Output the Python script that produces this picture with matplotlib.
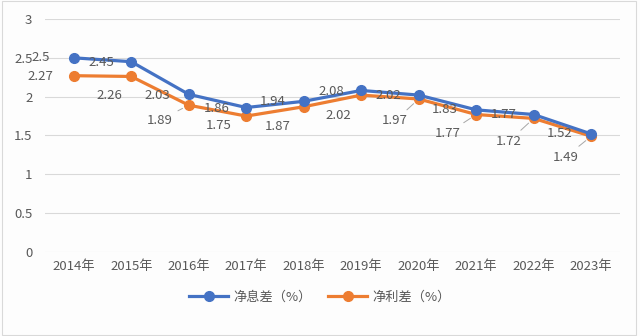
import matplotlib
matplotlib.use("Agg")
import matplotlib.pyplot as plt
from matplotlib.patches import Rectangle

plt.rcParams['font.family'] = ['Noto Sans CJK SC', 'DejaVu Sans']

years = ['2014年', '2015年', '2016年', '2017年', '2018年', '2019年', '2020年', '2021年', '2022年', '2023年']
nim = [2.5, 2.45, 2.03, 1.86, 1.94, 2.08, 2.02, 1.83, 1.77, 1.52]
spread = [2.27, 2.26, 1.89, 1.75, 1.87, 2.02, 1.97, 1.77, 1.72, 1.49]
nim_name = '净息差（%）'
spread_name = '净利差（%）'
yticks = [0, 0.5, 1, 1.5, 2, 2.5, 3]

blue = '#4472C4'
orange = '#ED7D31'
txt = '#595959'
fs = 9.5

fig = plt.figure(figsize=(6.4, 3.36), dpi=100)
fig.patch.set_facecolor('#fdfdfd')
fig.patches.append(Rectangle((0.003, 0.004), 0.991, 0.993, transform=fig.transFigure,
                             fill=False, edgecolor='#d9d9d9', linewidth=0.8))
ax = fig.add_axes([0.0703, 0.25, 0.8984, 0.6935])
ax.set_facecolor('none')

x = list(range(len(years)))
ax.plot(x, nim, color=blue, lw=2.3, marker='o', ms=7, label=nim_name, zorder=4)
ax.plot(x, spread, color=orange, lw=2.3, marker='o', ms=7, label=spread_name, zorder=3)

ax.set_xlim(-0.5, len(years) - 0.5)
ax.set_ylim(0, 3)
ax.set_yticks(yticks)
ax.set_yticklabels(['0', '0.5', '1', '1.5', '2', '2.5', '3'])
ax.set_xticks(x)
ax.set_xticklabels(years)
ax.tick_params(axis='both', length=0, labelsize=fs, colors=txt)
ax.tick_params(axis='y', pad=9)
ax.tick_params(axis='x', pad=6)
ax.grid(axis='y', color='#d9d9d9', lw=0.8)
for s in ax.spines.values():
    s.set_visible(False)

# data labels (offsets in pixels)
blue_off = [(-33, 0), (-30, -1), (-31, -1), (-30, -1), (-31, 0), (-30, -1), (-30, 0), (-32, 0), (-30, 0), (-32, 0)]
orange_off = [(-33, -1), (-22, -19), (-29, -15), (-28, -9), (-26, -20), (-23, -20), (-24, -22), (-29, -19), (-25, -23), (-26, -21)]
leader = [False, False, True, False, False, False, True, True, True, True]

for i, v in enumerate(nim):
    ax.annotate(f'{v:g}', (i, v), xytext=blue_off[i], textcoords='offset pixels',
                ha='center', va='center', fontsize=fs, color=txt, zorder=5)
for i, v in enumerate(spread):
    kw = {}
    if leader[i]:
        kw['arrowprops'] = dict(arrowstyle='-', color='#a6a6a6', lw=0.7, shrinkA=2, shrinkB=5)
    ax.annotate(f'{v:g}', (i, v), xytext=orange_off[i], textcoords='offset pixels',
                ha='center', va='center', fontsize=fs, color=txt, zorder=5, **kw)

leg = fig.legend(loc='center', bbox_to_anchor=(0.5, 0.115), ncol=2, frameon=False,
                 fontsize=fs, handlelength=3.0, columnspacing=1.2, handletextpad=0.4)
for t in leg.get_texts():
    t.set_color(txt)

fig.savefig('out.png', dpi=100, facecolor=fig.get_facecolor())
